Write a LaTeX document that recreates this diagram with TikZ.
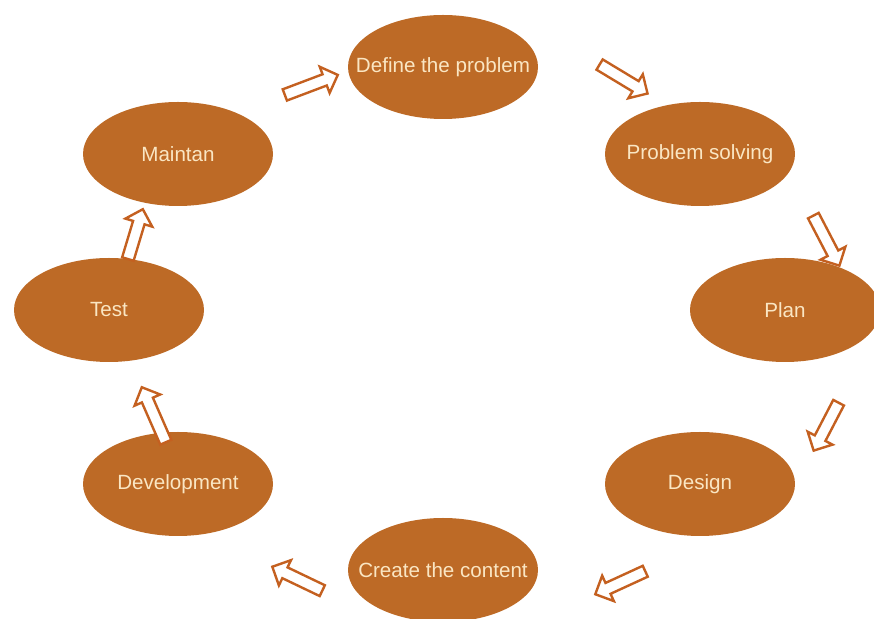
\documentclass[tikz,border=0pt]{standalone}
\usepackage{fontspec}
\setmainfont{Liberation Sans}
\usetikzlibrary{shapes.geometric}
\usetikzlibrary{shapes.arrows}
\definecolor{stepfill}{RGB}{189,106,38}
\definecolor{steptext}{RGB}{250,230,195}
\definecolor{arrowline}{RGB}{196,96,32}
\newcommand{\stagelabel}[1]{\makebox[0pt]{#1}}

\begin{document}
\begin{tikzpicture}[x=0.5pt,y=-0.5pt] % pixel grid of the drawing
	\tikzset{stage/.style={ellipse,fill=stepfill,text=steptext,inner sep=0pt,
			minimum width=95pt,minimum height=52pt,font=\fontsize{10.3}{12}\selectfont}}
	\tikzset{flow/.style={single arrow,draw=arrowline,fill=white,line width=1.2pt,
			inner sep=0pt,inner ysep=2.4pt,single arrow head extend=4pt,minimum height=#1}}
	
	% Size of the page
	\useasboundingbox (0,0) rectangle (874,619);
	\clip (0,0) rectangle (874,619);
	
	% The eight stages of the cycle
	\node[stage] (define) at (443,67) {\stagelabel{Define the problem}};
	\node[stage] (solving) at (700,154) {\stagelabel{Problem solving}};
	\node[stage] (plan) at (785,310) {\stagelabel{Plan}};
	\node[stage] (design) at (700,484) {\stagelabel{Design}};
	\node[stage] (content) at (443,570) {\stagelabel{Create the content}};
	\node[stage] (develop) at (178,484) {\stagelabel{Development}};
	\node[stage] (test) at (109,310) {\stagelabel{Test}};
	\node[stage] (maintain) at (178,154) {\stagelabel{Maintan}};
	
	% Hollow arrows between the stages
	\node[flow=28.3pt,rotate=20.7] (a1) at (308.5,86) {};
	\node[flow=28pt,rotate=-31.1] (a2) at (621,77.5) {};
	\node[flow=28.2pt,rotate=-62.5] (a3) at (825,238) {};
	\node[flow=27pt,rotate=-117.5] (a4) at (827.5,424) {};
	\node[flow=27.5pt,rotate=-155.3] (a5) at (623,581.5) {};
	\node[flow=27.7pt,rotate=154.4] (a6) at (300,580) {};
	\node[flow=30pt,rotate=113.6] (a7) at (155,417.5) {};
	\node[flow=26pt,rotate=73.3] (a8) at (134.5,237) {};
	
\end{tikzpicture}
\end{document}
